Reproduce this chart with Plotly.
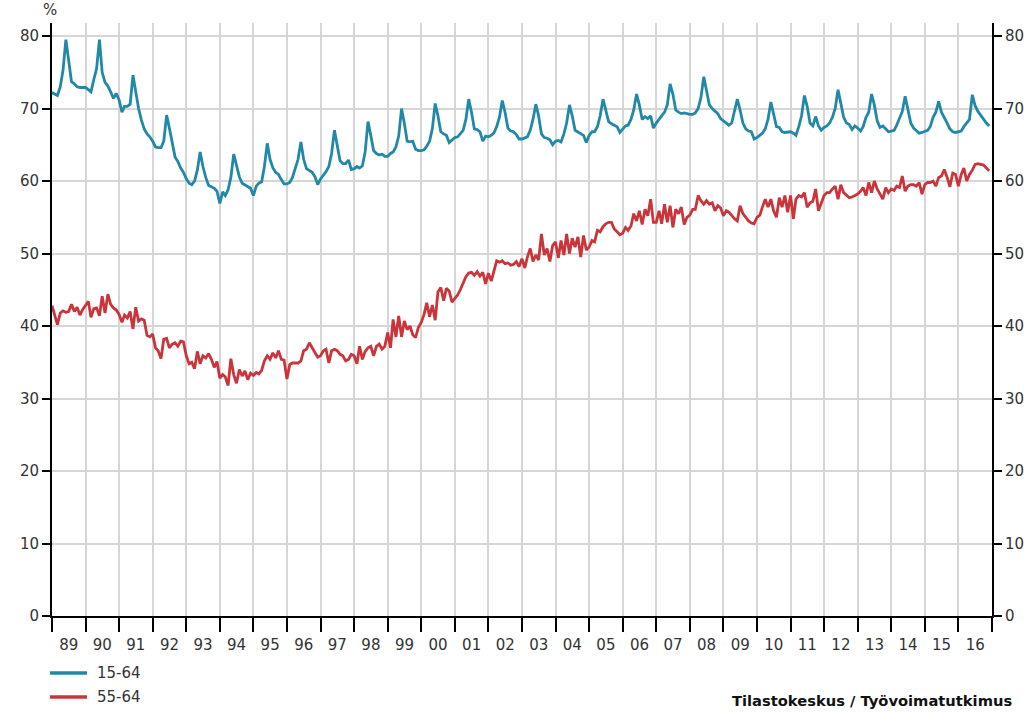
import plotly.graph_objects as go

years = list(range(1989, 2017))
series_names = ["15-64", "55-64"]
y_ticks = [0, 10, 20, 30, 40, 50, 60, 70, 80]

# Monthly employment rate, 15-64 (one row per year, Jan..Dec)
rate_15_64 = [
    72.2, 72.0, 71.8, 73.0, 75.3, 79.5, 76.3, 73.7, 73.4, 73.0, 72.9, 72.9,  # 1989
    72.9, 72.6, 72.3, 74.0, 75.5, 79.5, 75.0, 73.6, 73.1, 72.3, 71.4, 72.1,  # 1990
    71.2, 69.5, 70.3, 70.3, 70.6, 74.6, 72.0, 70.0, 68.4, 67.2, 66.5, 66.1,  # 1991
    65.5, 64.7, 64.6, 64.6, 65.5, 69.1, 67.3, 65.2, 63.3, 62.7, 61.8, 61.2,  # 1992
    60.3, 59.7, 59.5, 60.0, 61.5, 64.0, 62.0, 60.5, 59.4, 59.2, 59.0, 58.6,  # 1993
    56.9, 58.5, 58.0, 58.8, 60.5, 63.7, 62.0, 60.6, 59.7, 59.5, 59.3, 59.0,  # 1994
    58.0, 59.3, 59.7, 59.9, 62.0, 65.2, 63.0, 61.8, 61.2, 60.9, 60.2, 59.6,  # 1995
    59.6, 59.8, 60.5, 61.7, 63.0, 65.4, 63.0, 61.7, 61.4, 61.2, 60.6, 59.5,  # 1996
    60.3, 60.8, 61.3, 62.0, 63.8, 67.0, 65.0, 62.8, 62.4, 62.4, 62.9, 61.6,  # 1997
    61.7, 62.0, 61.8, 62.1, 64.0, 68.2, 66.3, 64.2, 63.8, 63.6, 63.7, 63.4,  # 1998
    63.4, 63.8, 64.0, 64.7, 66.2, 70.0, 68.0, 65.5, 65.4, 65.5, 64.4, 64.2,  # 1999
    64.2, 64.3, 64.8, 65.5, 67.2, 70.7, 69.0, 66.8, 66.5, 66.3, 65.3, 65.7,  # 2000
    66.0, 66.1, 66.5, 67.0, 68.5, 71.3, 69.5, 67.2, 67.1, 66.8, 65.5, 66.2,  # 2001
    66.1, 66.3, 66.6, 67.5, 68.8, 71.1, 69.5, 67.3, 66.9, 66.8, 66.4, 65.8,  # 2002
    65.8, 66.0, 66.1, 67.0, 68.5, 70.6, 69.0, 66.5, 66.0, 65.9, 65.7, 65.0,  # 2003
    65.5, 65.6, 65.4, 66.5, 68.0, 70.5, 69.0, 67.0, 66.8, 66.6, 66.3, 65.3,  # 2004
    66.3, 66.8, 66.8, 67.5, 69.0, 71.3, 69.7, 68.2, 67.9, 67.7, 67.5, 66.7,  # 2005
    67.2, 67.6, 67.7, 68.5, 69.8, 72.0, 70.5, 68.5, 68.9, 68.6, 69.0, 67.3,  # 2006
    68.0, 68.5, 69.0, 69.5, 70.5, 73.4, 72.0, 69.8, 69.5, 69.3, 69.4, 69.3,  # 2007
    69.2, 69.2, 69.4, 70.0, 71.5, 74.4, 72.5, 70.5, 70.0, 69.6, 69.3, 68.6,  # 2008
    68.3, 68.0, 67.7, 68.0, 69.5, 71.3, 69.8, 68.0, 67.2, 66.9, 66.8, 65.8,  # 2009
    66.0, 66.3, 66.6, 67.2, 68.5, 70.9, 69.3, 67.5, 67.4, 66.8, 66.7, 66.8,  # 2010
    66.8, 66.6, 66.3, 67.5, 69.0, 71.8, 70.3, 68.0, 67.6, 68.9, 67.6, 67.0,  # 2011
    67.4, 67.6, 68.0, 68.8, 70.0, 72.6, 70.8, 68.8, 68.0, 67.8, 67.1, 67.6,  # 2012
    67.3, 66.9, 67.5, 68.8, 69.5, 72.0, 70.5, 68.3, 67.4, 67.6, 67.2, 66.8,  # 2013
    66.9, 67.0, 67.7, 68.8, 69.6, 71.7, 70.0, 68.0, 67.3, 67.0, 66.6, 66.7,  # 2014
    66.8, 67.0, 67.5, 68.8, 69.5, 71.0, 69.5, 68.8, 68.0, 67.2, 66.8, 66.7,  # 2015
    66.8, 66.9, 67.5, 68.0, 68.5, 71.9, 70.4, 69.6, 69.0, 68.5, 68.0, 67.6,  # 2016
]

# Monthly employment rate, 55-64
rate_55_64 = [
    42.8, 41.5, 40.2, 41.8, 42.1, 41.9, 42.0, 43.0, 42.0, 42.6, 41.5, 42.3,  # 1989
    42.8, 43.4, 41.2, 42.4, 42.5, 41.4, 44.1, 41.8, 44.4, 43.0, 42.5, 42.2,  # 1990
    41.6, 40.5, 41.5, 41.1, 42.0, 39.6, 42.6, 40.7, 41.0, 40.8, 38.7, 38.5,  # 1991
    38.9, 37.0, 36.6, 35.5, 38.2, 38.3, 37.0, 37.5, 37.7, 37.2, 37.9, 37.8,  # 1992
    35.9, 34.8, 35.0, 34.1, 36.5, 34.8, 35.9, 35.6, 36.2, 35.4, 34.3, 35.1,  # 1993
    32.8, 33.3, 33.0, 31.8, 35.5, 33.3, 32.1, 34.0, 33.1, 33.8, 32.6, 33.5,  # 1994
    33.2, 33.6, 33.4, 33.9, 35.2, 35.9, 35.4, 36.3, 35.6, 36.6, 35.4, 35.3,  # 1995
    32.7, 34.7, 34.9, 34.9, 34.9, 35.2, 36.6, 36.8, 37.7, 37.0, 36.3, 35.7,  # 1996
    35.9, 36.6, 36.8, 34.9, 36.6, 36.8, 36.6, 36.1, 35.9, 35.2, 35.4, 36.1,  # 1997
    35.9, 34.8, 37.2, 35.4, 36.5, 37.0, 37.2, 35.9, 37.2, 37.5, 36.8, 37.2,  # 1998
    39.1, 37.0, 40.9, 38.5, 41.4, 38.5, 40.7, 39.5, 40.0, 38.8, 38.4, 39.8,  # 1999
    40.5, 41.6, 43.2, 41.3, 42.9, 40.8, 44.7, 45.3, 43.5, 45.2, 44.8, 43.3,  # 2000
    43.8, 44.3, 45.0, 45.9, 46.8, 47.3, 47.4, 47.0, 47.5, 46.9, 47.4, 45.8,  # 2001
    47.3, 46.2, 47.5, 49.0, 48.8, 49.0, 48.6, 48.7, 48.4, 48.5, 48.9, 48.2,  # 2002
    49.3, 48.0, 49.5, 50.7, 48.9, 49.8, 49.1, 52.7, 49.8, 50.7, 48.9, 51.1,  # 2003
    51.6, 49.4, 51.8, 49.8, 52.7, 50.0, 52.1, 50.9, 52.3, 49.5, 52.5, 50.5,  # 2004
    50.9, 51.8, 51.6, 53.2, 53.0, 53.7, 54.1, 54.3, 54.3, 53.4, 53.0, 52.6,  # 2005
    52.8, 53.6, 53.2, 53.8, 55.5, 54.5, 55.9, 54.0, 56.1, 55.2, 57.5, 54.3,  # 2006
    54.3, 55.9, 54.1, 56.8, 54.3, 56.6, 53.6, 56.1, 55.5, 56.4, 54.0, 55.0,  # 2007
    55.3, 56.1, 56.1, 58.0, 57.3, 56.8, 57.3, 56.8, 57.0, 55.9, 56.6, 56.3,  # 2008
    55.2, 55.9, 55.7, 55.2, 54.8, 54.5, 56.6, 55.5, 55.0, 54.5, 54.2, 54.1,  # 2009
    55.0, 55.3, 56.4, 57.5, 56.4, 57.5, 55.9, 55.0, 57.7, 56.4, 58.0, 55.7,  # 2010
    58.0, 54.8, 57.5, 58.0, 57.8, 58.4, 56.4, 57.0, 57.2, 58.9, 55.9, 57.0,  # 2011
    58.0, 58.4, 58.4, 58.9, 59.3, 57.5, 59.5, 58.4, 58.0, 57.7, 57.8, 58.0,  # 2012
    58.2, 58.6, 59.1, 58.0, 59.8, 58.4, 60.0, 58.9, 58.2, 57.5, 59.1, 58.4,  # 2013
    58.9, 58.7, 59.3, 59.1, 60.7, 58.6, 59.3, 59.5, 59.5, 59.3, 59.8, 58.2,  # 2014
    59.5, 59.8, 59.8, 60.0, 59.3, 60.5, 60.7, 61.6, 60.5, 59.2, 61.1, 60.9,  # 2015
    59.3, 60.9, 61.8, 60.0, 60.9, 61.5, 62.3, 62.4, 62.3, 62.2, 61.8, 61.4,  # 2016
]

months = [f"{y}-{m:02d}-01" for y in years for m in range(1, 13)]

FONT = "DejaVu Sans"
BLUE = "#2288a8"
RED = "#c9353a"
GRID = "#d6d6d6"
TXT = "#333333"
COLORS = [BLUE, RED]

W, H = 1031, 712
ML, MR, MT, MB = 52, 39, 23, 96
PW, PH = W - ML - MR, H - MT - MB


def px(xp):
    return (xp - ML) / PW


def py(yp):
    return (H - MB - yp) / PH


fig = go.Figure()
for name, vals, col in zip(series_names, [rate_15_64, rate_55_64], COLORS):
    fig.add_trace(go.Scatter(x=months, y=vals, name=name, mode="lines",
                             line=dict(color=col, width=2.8), showlegend=False))
# invisible trace to carry the right-hand axis
fig.add_trace(go.Scatter(x=months, y=rate_55_64, yaxis="y2", mode="lines",
                         line=dict(color="rgba(0,0,0,0)", width=0), showlegend=False,
                         hoverinfo="skip"))

shapes = []
annotations = [
    dict(text="%", xref="paper", yref="paper", x=px(50), y=1, xanchor="center",
         yanchor="bottom", yshift=2, showarrow=False,
         font=dict(family=FONT, size=15, color=TXT)),
    dict(text="<b>Tilastokeskus / Työvoimatutkimus</b>", xref="paper", yref="paper",
         x=px(1014), y=py(711), xanchor="right", yanchor="bottom", showarrow=False,
         font=dict(family=FONT, size=14.7, color="#111111")),
]
# manual legend
for i, (name, col) in enumerate(zip(series_names, COLORS)):
    ly = 673 + 24 * i
    shapes.append(dict(type="line", xref="paper", yref="paper", x0=px(50), x1=px(87),
                       y0=py(ly), y1=py(ly), line=dict(color=col, width=3.5)))
    annotations.append(dict(text=name, xref="paper", yref="paper", x=px(95), y=py(ly),
                            xanchor="left", yanchor="middle", showarrow=False,
                            font=dict(family=FONT, size=15, color=TXT)))

yr = [0, 81.8]
fig.update_layout(
    width=W, height=H,
    margin=dict(l=ML, r=MR, t=MT, b=MB, autoexpand=False),
    paper_bgcolor="white", plot_bgcolor="white",
    font=dict(family=FONT, size=15, color=TXT),
    showlegend=False,
    xaxis=dict(type="date", range=[f"{years[0]}-01-01", f"{years[-1] + 1}-01-01"],
               tick0=f"{years[0]}-01-01", dtick="M12", ticklabelmode="period",
               tickformat="%y", ticks="outside", ticklen=14, tickwidth=2,
               tickcolor="black", showline=True, linecolor="black", linewidth=2,
               showgrid=True, gridcolor=GRID, gridwidth=2, zeroline=False,
               automargin=False, tickfont=dict(family=FONT, size=15, color=TXT)),
    yaxis=dict(range=yr, tickvals=y_ticks, ticks="outside", ticklen=8, tickwidth=2,
               tickcolor="black", showline=True, linecolor="black", linewidth=2,
               showgrid=True, gridcolor=GRID, gridwidth=2, zeroline=False,
               automargin=False, tickfont=dict(family=FONT, size=15, color=TXT)),
    yaxis2=dict(range=yr, tickvals=y_ticks, overlaying="y", side="right",
                ticks="outside", ticklen=8, tickwidth=2, tickcolor="black",
                showline=True, linecolor="black", linewidth=2, showgrid=False,
                zeroline=False, automargin=False,
                tickfont=dict(family=FONT, size=15, color=TXT)),
    shapes=shapes,
    annotations=annotations,
)

fig.write_html("out.html", config={"displayModeBar": False},
               post_script="document.body.style.margin='0';document.body.style.overflow='hidden';")
